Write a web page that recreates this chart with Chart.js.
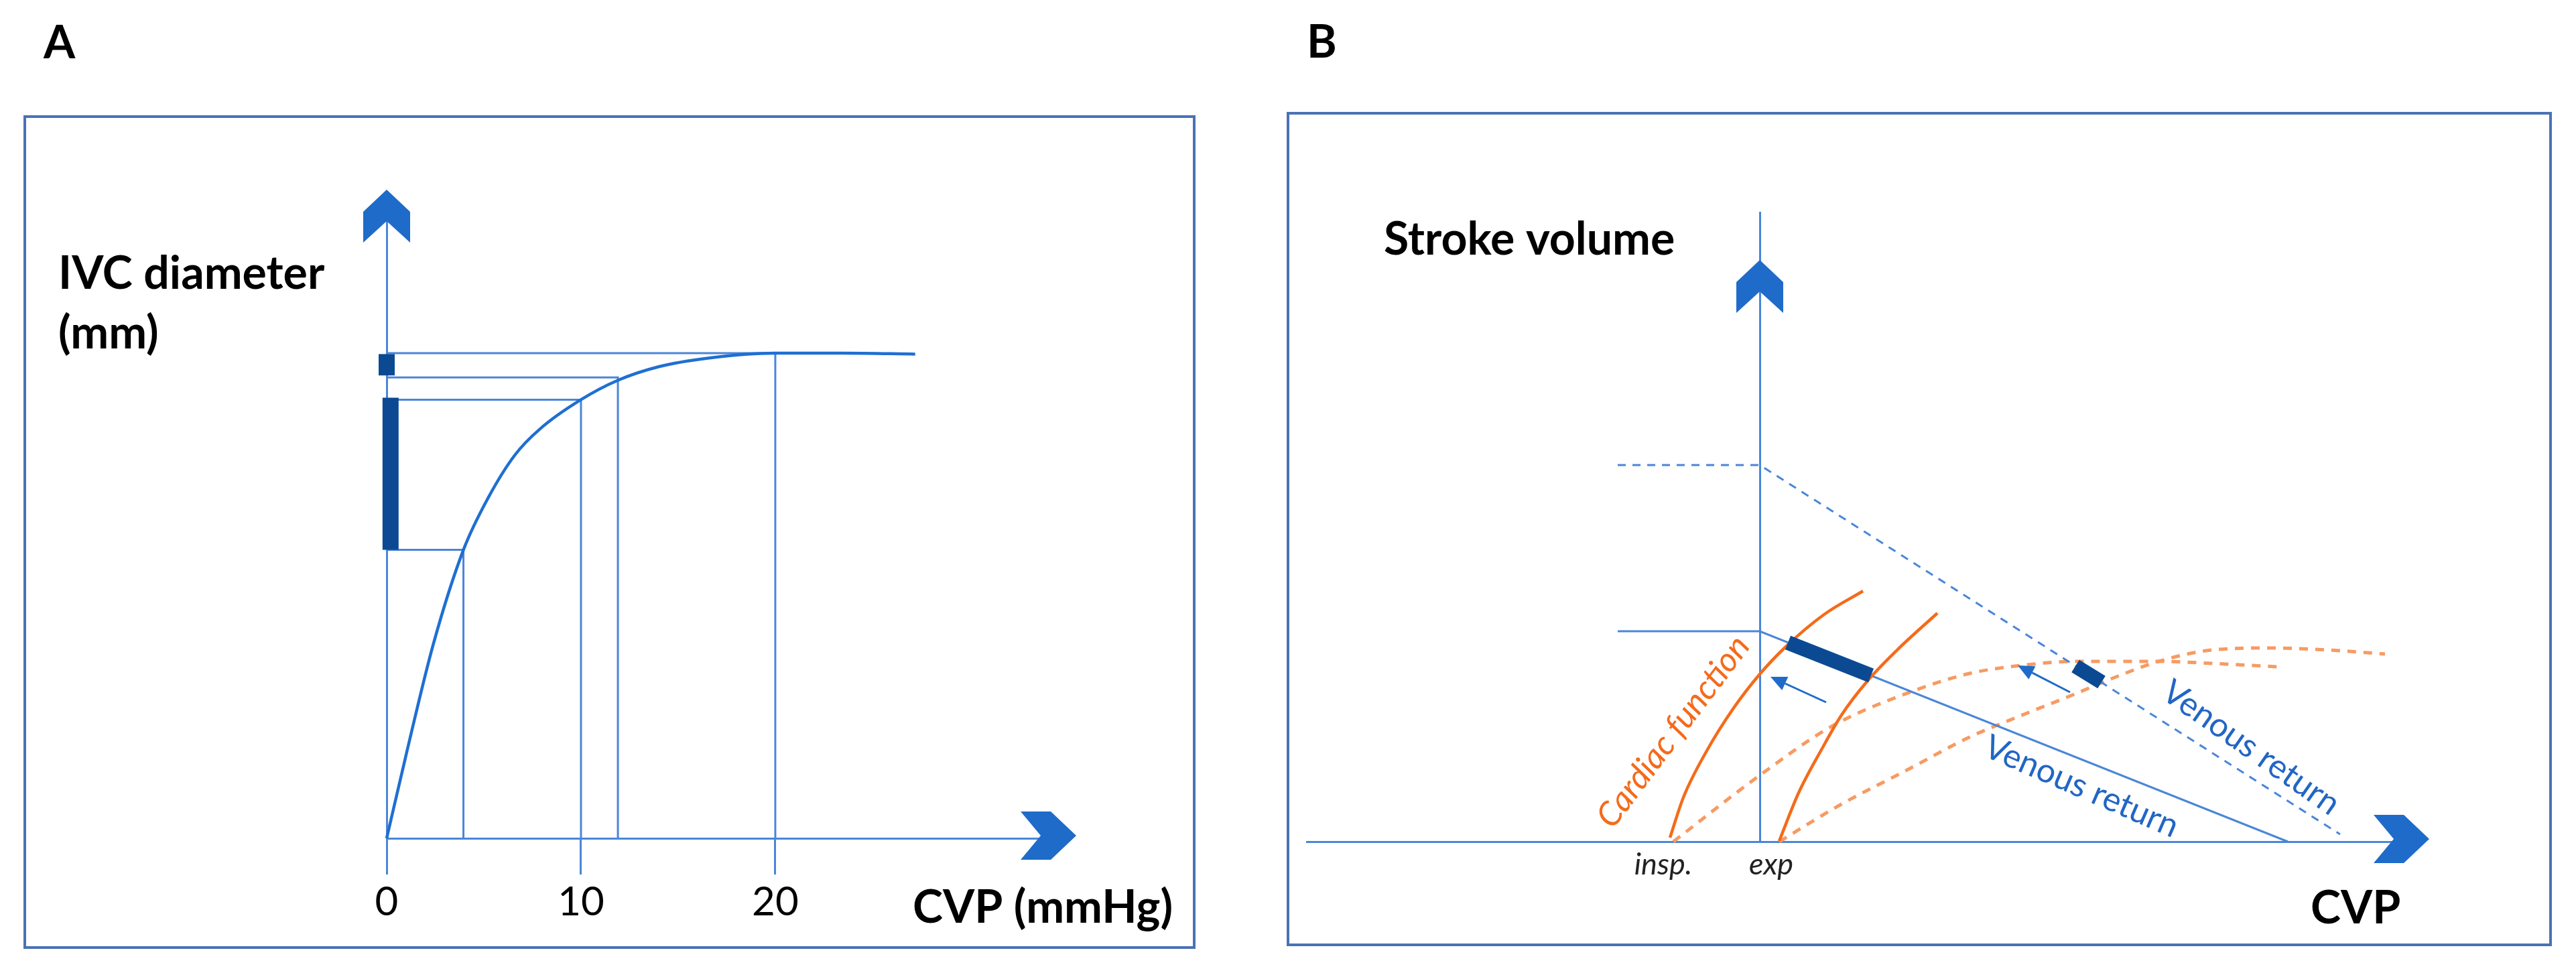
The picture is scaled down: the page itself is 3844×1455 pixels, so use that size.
<!DOCTYPE html>
<html>
<head>
<meta charset="utf-8">
<script src="https://cdn.jsdelivr.net/npm/chart.js@4.4.1/dist/chart.umd.min.js"></script>
<style>
  html, body { margin: 0; padding: 0; background: #fff; }
  body { width: 3844px; height: 1455px; position: relative; overflow: hidden; }
  .frame { position: absolute; border: 4px solid #4a72b5; box-sizing: border-box; }
  canvas { position: absolute; top: 0; }
</style>
</head>
<body>
<div class="frame" style="left:35px;top:172px;width:1749px;height:1244px;"></div>
<div class="frame" style="left:1920px;top:167px;width:1888px;height:1245px;"></div>
<canvas id="panelA" width="1900" height="1455" style="left:0;width:1900px;height:1455px;"></canvas>
<canvas id="panelB" width="1944" height="1455" style="left:1900px;width:1944px;height:1455px;"></canvas>
<script>
// ---- panel A : IVC diameter vs CVP ----
const cvpTicks = [0, 10, 20];
const ivcCurveCvp = [0, 1, 2.4, 3.95, 5.2, 6.6, 7.9, 10, 11.9, 14, 16.6, 20, 23.5, 27.2];
const ivcCurveDiam = [0, 4.3, 10.0, 14.86, 17.5, 19.75, 21.1, 22.6, 23.6, 24.3, 24.75, 25, 25, 24.95];
const guideCvp = [3.95, 10, 11.9, 20];
const guideDiam = [14.86, 22.6, 23.75, 25];
const rangeBarCvp = [0, 0.2];
const rangeBarLow = [23.85, 14.86];
const rangeBarHigh = [24.95, 22.7];

// ---- panel B : stroke volume vs CVP ----
const vrSolidX = [-21.2, 0, 78.8];
const vrSolidY = [31.4, 31.4, 0];
const vrDashX = [-21.2, 0, 86.6];
const vrDashY = [56.2, 56.2, 1.1];
const cfInspX = [-13.4, -11.4, -8, -4, 0, 4, 9.6, 15.4];
const cfInspY = [0.6, 6.6, 13.4, 19.8, 25.0, 29.2, 33.9, 37.4];
const cfExpX = [2.9, 5.8, 9.3, 12.2, 16.0, 20.5, 26.5];
const cfExpY = [0.1, 7.3, 13.9, 18.9, 23.9, 28.6, 34.1];
const cfInspDashX = [-12.9, 0, 10.9, 22.4, 31.3, 39, 47.4, 59.5, 67.5, 77.2];
const cfInspDashY = [0, 9.9, 17.3, 22.3, 25.1, 26.3, 26.9, 26.9, 26.6, 26.1];
const cfExpDashX = [2.9, 12.2, 21.8, 31.3, 37.7, 46.7, 53.2, 59.5, 67.5, 76.1, 84.7, 93.3];
const cfExpDashY = [0, 5.6, 10.6, 15.6, 18.3, 21.9, 24.6, 26.9, 28.6, 28.9, 28.6, 28.0];
const svBarSolidX = [4.2, 16.6];
const svBarSolidY = [29.7, 24.8];
const svBarDashX = [47.1, 51.0];
const svBarDashY = [26.2, 23.8];
const shiftFromX = [9.9, 46.3];
const shiftFromY = [20.8, 22.3];
const shiftToX = [1.6, 38.5];
const shiftToY = [24.6, 26.3];

const LINE = '#4a86d8';
const DARK = '#0b4a93';
const ARROW = '#1f6bc9';
const ORANGE = '#f46b1a';
const ORANGE_LIGHT = '#f79b62';

const pts = (xs, ys) => xs.map((v, i) => ({ x: v, y: ys[i] }));

function chevronUp(ctx, cx, ny) {
    ctx.beginPath();
    ctx.moveTo(cx, ny - 47);
    ctx.lineTo(cx + 35, ny - 14);
    ctx.lineTo(cx + 35, ny + 32);
    ctx.lineTo(cx, ny);
    ctx.lineTo(cx - 35, ny + 32);
    ctx.lineTo(cx - 35, ny - 14);
    ctx.closePath();
    ctx.fill();
}

function chevronRight(ctx, nx, cy) {
    ctx.beginPath();
    ctx.moveTo(nx + 53, cy);
    ctx.lineTo(nx + 15, cy - 36);
    ctx.lineTo(nx - 30, cy - 36);
    ctx.lineTo(nx, cy);
    ctx.lineTo(nx - 30, cy + 36);
    ctx.lineTo(nx + 15, cy + 36);
    ctx.closePath();
    ctx.fill();
}

// draws axis arrows, small shift arrows and all annotation text
const decor = {
    id: 'decor',
    afterDatasetsDraw(chart, args, opts) {
        const { ctx, chartArea } = chart;
        const sx = chart.scales.x, sy = chart.scales.y;
        ctx.save();
        ctx.fillStyle = ARROW;
        chevronUp(ctx, sx.getPixelForValue(0), opts.yArrowAt != null ? sy.getPixelForValue(opts.yArrowAt) : chartArea.top);
        chevronRight(ctx, chartArea.right, sy.getPixelForValue(0) - 4);

        (opts.shifts || []).forEach(a => {
            const x0 = sx.getPixelForValue(a.x0), y0 = sy.getPixelForValue(a.y0);
            const x1 = sx.getPixelForValue(a.x1), y1 = sy.getPixelForValue(a.y1);
            const ang = Math.atan2(y1 - y0, x1 - x0);
            const head = 24, half = 11;
            ctx.strokeStyle = ARROW;
            ctx.lineWidth = 3;
            ctx.beginPath();
            ctx.moveTo(x0, y0);
            ctx.lineTo(x1 - head * Math.cos(ang), y1 - head * Math.sin(ang));
            ctx.stroke();
            ctx.beginPath();
            ctx.moveTo(x1, y1);
            ctx.lineTo(x1 - head * Math.cos(ang) + half * Math.sin(ang), y1 - head * Math.sin(ang) - half * Math.cos(ang));
            ctx.lineTo(x1 - head * Math.cos(ang) - half * Math.sin(ang), y1 - head * Math.sin(ang) + half * Math.cos(ang));
            ctx.closePath();
            ctx.fill();
        });

        (opts.texts || []).forEach(t => {
            ctx.save();
            ctx.translate(sx.getPixelForValue(t.x), sy.getPixelForValue(t.y));
            ctx.rotate((t.rot || 0) * Math.PI / 180);
            ctx.font = t.font;
            ctx.fillStyle = t.color || '#000';
            ctx.textAlign = t.align || 'left';
            ctx.textBaseline = t.base || 'alphabetic';
            ctx.fillText(t.text, 0, 0);
            ctx.restore();
        });
        ctx.restore();
    }
};

const thin = (data, extra) => Object.assign({
    data: data, borderColor: LINE, borderWidth: 3, pointRadius: 0, tension: 0, clip: false, order: 2
}, extra || {});

// ---------- panel A ----------
const datasetsA = [];
rangeBarCvp.forEach((c, i) => {
    datasetsA.push(thin([{ x: c, y: rangeBarLow[i] }, { x: c, y: rangeBarHigh[i] }],
        { borderColor: DARK, borderWidth: 24, borderCapStyle: 'butt', order: 0 }));
});
datasetsA.push(thin(pts(ivcCurveCvp, ivcCurveDiam),
    { borderColor: '#1f6fd1', borderWidth: 4.5, cubicInterpolationMode: 'monotone', order: 1 }));
guideCvp.forEach((c, i) => {
    datasetsA.push(thin([{ x: 0, y: guideDiam[i] }, { x: c, y: guideDiam[i] }, { x: c, y: 0 }]));
});

new Chart(document.getElementById('panelA'), {
    type: 'line',
    data: { datasets: datasetsA },
    options: {
        responsive: false,
        animation: false,
        devicePixelRatio: 1,
        layout: { padding: { left: 577, right: 347, top: 330, bottom: 54 }, autoPadding: false },
        plugins: {
            legend: { display: false },
            tooltip: { enabled: false },
            decor: {
                texts: [
                    { text: 'A', x: -17.66, y: 40.2, font: 'bold 68px Lato' },
                    { text: 'IVC diameter', x: -16.9, y: 28.3, font: 'bold 68px Lato' },
                    { text: '(mm)', x: -16.9, y: 25.24, font: 'bold 68px Lato' },
                    { text: 'CVP (mmHg)', x: 27.07, y: -4.35, font: 'bold 68px Lato' }
                ]
            }
        },
        scales: {
            x: {
                type: 'linear', min: 0, max: 33.66, position: 'bottom',
                afterBuildTicks: s => { s.ticks = cvpTicks.map(v => ({ value: v })); },
                afterFit: s => { s.height = 150; },
                grid: { drawOnChartArea: false, drawTicks: true, tickLength: 54, color: LINE, lineWidth: 3 },
                border: { display: true, color: LINE, width: 3 },
                ticks: { color: '#000', font: { family: 'Lato', size: 60 }, padding: 6, maxRotation: 0, autoSkip: false }
            },
            y: {
                type: 'linear', min: 0, max: 31.8,
                afterFit: s => { s.width = 0; },
                grid: { display: false },
                ticks: { display: false },
                border: { display: true, color: LINE, width: 3 }
            }
        }
    },
    plugins: [decor]
});

// ---------- panel B ----------
const datasetsB = [
    thin(pts(svBarSolidX, svBarSolidY), { borderColor: DARK, borderWidth: 22, borderCapStyle: 'butt', order: 0 }),
    thin(pts(svBarDashX, svBarDashY), { borderColor: DARK, borderWidth: 22, borderCapStyle: 'butt', order: 0 }),
    thin(pts(vrSolidX, vrSolidY)),
    thin(pts(vrDashX, vrDashY), { borderDash: [12, 10] }),
    thin(pts(cfInspX, cfInspY), { borderColor: ORANGE, borderWidth: 4.5, cubicInterpolationMode: 'monotone', order: 1 }),
    thin(pts(cfExpX, cfExpY), { borderColor: ORANGE, borderWidth: 4.5, cubicInterpolationMode: 'monotone', order: 1 }),
    thin(pts(cfInspDashX, cfInspDashY), { borderColor: ORANGE_LIGHT, borderWidth: 5, borderDash: [13, 11], cubicInterpolationMode: 'monotone', order: 3 }),
    thin(pts(cfExpDashX, cfExpDashY), { borderColor: ORANGE_LIGHT, borderWidth: 5, borderDash: [13, 11], cubicInterpolationMode: 'monotone', order: 3 })
];

new Chart(document.getElementById('panelB'), {
    type: 'line',
    data: { datasets: datasetsB },
    options: {
        responsive: false,
        animation: false,
        devicePixelRatio: 1,
        layout: { padding: { left: 50, right: 272, top: 317, bottom: 199 }, autoPadding: false },
        plugins: {
            legend: { display: false },
            tooltip: { enabled: false },
            decor: {
                yArrowAt: 82.1,
                shifts: shiftFromX.map((v, i) => ({ x0: v, y0: shiftFromY[i], x1: shiftToX[i], y1: shiftToY[i] })),
                texts: [
                    { text: 'B', x: -67.6, y: 117, font: 'bold 68px Lato' },
                    { text: 'Stroke volume', x: -56.1, y: 87.6, font: 'bold 68px Lato' },
                    { text: 'CVP', x: 82.2, y: -12.2, font: 'bold 68px Lato' },
                    { text: 'insp.', x: -14.4, y: -3.4, font: 'italic 45px Lato', color: '#222', align: 'center', base: 'middle' },
                    { text: 'exp', x: 1.7, y: -3.4, font: 'italic 45px Lato', color: '#222', align: 'center', base: 'middle' },
                    { text: 'Venous return', x: 48, y: 8.2, rot: 23.5, font: '50px Lato', color: '#2166c4', align: 'center', base: 'middle' },
                    { text: 'Venous return', x: 73.3, y: 14, rot: 35, font: '50px Lato', color: '#2166c4', align: 'center', base: 'middle' },
                    { text: 'Cardiac function', x: -12.9, y: 16.4, rot: -53, font: 'italic 50px Lato', color: ORANGE, align: 'center', base: 'middle' }
                ]
            }
        },
        scales: {
            x: {
                type: 'linear', min: -67.6, max: 94.6, position: 'bottom',
                afterFit: s => { s.height = 0; },
                grid: { display: false },
                ticks: { display: false },
                border: { display: true, color: LINE, width: 3 }
            },
            y: {
                type: 'linear', min: 0, max: 93.9, position: { x: 0 },
                afterFit: s => { s.width = 0; },
                grid: { display: false },
                ticks: { display: false },
                border: { display: true, color: LINE, width: 3 }
            }
        }
    },
    plugins: [decor]
});
</script>
</body>
</html>
